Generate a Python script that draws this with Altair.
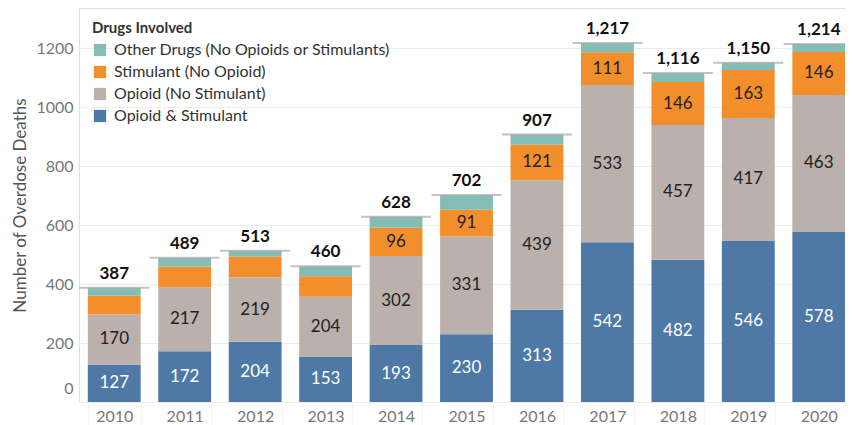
import altair as alt
import pandas as pd

years = [2010, 2011, 2012, 2013, 2014, 2015, 2016, 2017, 2018, 2019, 2020]
opioid_stim = [127, 172, 204, 153, 193, 230, 313, 542, 482, 546, 578]
opioid_only = [170, 217, 219, 204, 302, 331, 439, 533, 457, 417, 463]
stim_only = [63, 70, 70, 69, 96, 91, 121, 111, 146, 163, 146]
other = [27, 30, 20, 34, 37, 50, 34, 31, 31, 24, 27]
totals = [387, 489, 513, 460, 628, 702, 907, 1217, 1116, 1150, 1214]

categories = ["Other Drugs (No Opioids or Stimulants)", "Stimulant (No Opioid)",
              "Opioid (No Stimulant)", "Opioid & Stimulant"]
colors = ["#86BCB6", "#F28E2B", "#BAB0AC", "#4E79A7"]

rows = []
for i, yr in enumerate(years):
    for order, (cat, vals) in enumerate([(categories[3], opioid_stim), (categories[2], opioid_only),
                                         (categories[1], stim_only), (categories[0], other)]):
        rows.append({"year": str(yr), "category": cat, "value": vals[i], "order": order})
df = pd.DataFrame(rows)
tot_df = pd.DataFrame({"year": [str(y) for y in years], "total": totals})

FONT = "Lato"

xenc = alt.X("year:N",
             scale=alt.Scale(range=[0, 775], paddingInner=0.25, paddingOuter=0.125),
             axis=alt.Axis(title=None, labelAngle=0, labelFontSize=16, labelColor="#777",
                           labelFont=FONT, domain=False, ticks=True, tickBand="extent",
                           tickColor="#f2f2f2", tickSize=23, labelPadding=-17))
yscale = alt.Scale(domain=[0, 1336], nice=False)
yaxis = alt.Axis(values=[0, 200, 400, 600, 800, 1000, 1200], format="d", gridColor="#ececec",
                 labelFontSize=16, labelColor="#777", labelFont=FONT,
                 title="Number of Overdose Deaths", titleFontSize=17, titleColor="#555",
                 titleFontWeight="normal", titleFont=FONT, titlePadding=6,
                 domain=True, domainColor="#e0e0e0", ticks=False, labelPadding=6,
                 labelFlush=True, labelFlushOffset=-6)

base = alt.Chart(df)
bars = base.mark_bar().encode(
    x=xenc,
    y=alt.Y("value:Q", scale=yscale, axis=yaxis, stack="zero"),
    color=alt.Color("category:N", scale=alt.Scale(domain=categories, range=colors),
                    legend=alt.Legend(orient="none", legendX=13, legendY=13,
                                      title="Drugs Involved", titleFontSize=15,
                                      titleFontWeight="bold", titleColor="#333", titleFont=FONT,
                                      labelFontSize=16, labelColor="#333", labelFont=FONT,
                                      labelLimit=400,
                                      symbolType="square", symbolSize=150, symbolStrokeWidth=0,
                                      rowPadding=6, titlePadding=6, labelOffset=6)),
    order=alt.Order("order:Q", sort="ascending"),
)

seg_text = base.transform_stack(
    stack="value", groupby=["year"], sort=[alt.SortField("order", "ascending")], as_=["y0", "y1"]
).transform_calculate(
    mid="(datum.y0 + datum.y1) / 2"
).transform_filter(
    "datum.value >= 80 && datum.order < 3"
).mark_text(fontSize=17, font=FONT).encode(
    x=xenc,
    y=alt.Y("mid:Q", scale=yscale),
    text="value:Q",
    color=alt.condition("datum.order == 0", alt.value("white"), alt.value("#222")),
)

tot = alt.Chart(tot_df)
rule = tot.mark_tick(size=70, thickness=2, color="#aaaaaa").encode(
    x=xenc, y=alt.Y("total:Q", scale=yscale))
tot_text = tot.mark_text(dy=-5, baseline="bottom", fontWeight="bold", fontSize=17,
                         font=FONT, color="#111").encode(
    x=xenc, y=alt.Y("total:Q", scale=yscale), text=alt.Text("total:Q", format=","))

chart = alt.layer(bars, seg_text, rule, tot_text).properties(
    width=766, height=394,
    padding={"left": 71, "top": 0, "right": 0, "bottom": 23},
    autosize=alt.AutoSizeParams(type="none"),
).configure_view(stroke=None).configure(font=FONT)

chart.save("out.html", embed_options={"renderer": "svg", "actions": False})
